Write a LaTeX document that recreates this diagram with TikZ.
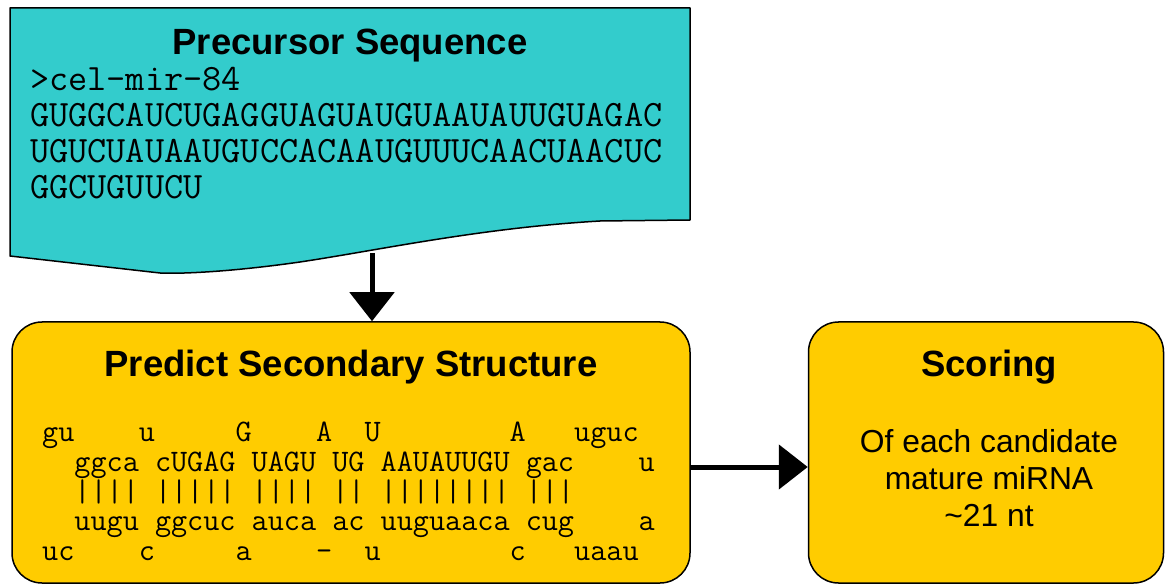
\documentclass[tikz,border=0pt]{standalone}
\usepackage{fontspec}
\setmainfont{Liberation Sans}
\newfontfamily\monofam{Latin Modern Mono}
\usetikzlibrary{arrows.meta}
\definecolor{cyanfill}{HTML}{33CCCC}
\definecolor{goldfill}{HTML}{FFCC00}
\newcommand\spc[1]{\hspace*{#1\fontcharwd\font`x}}
\tikzset{
  box/.style={draw=black, line width=1.5pt, fill=goldfill, rounded corners=30pt, inner sep=0pt},
  title/.style={inner sep=0pt, anchor=base, font=\bfseries\fontsize{36.5}{40}\selectfont},
  body/.style={inner sep=0pt, anchor=base, font=\fontsize{31.8}{36}\selectfont},
  seq/.style={inner sep=0pt, anchor=base west, font=\monofam\fontsize{37.2}{40}\selectfont},
  struct/.style={inner sep=0pt, anchor=base west, font=\monofam\fontsize{31.3}{34}\selectfont},
  flow/.style={line width=5pt, -{Triangle[length=29pt,width=44pt]}},
}
\begin{document}
\begin{tikzpicture}[x=1pt,y=-1pt]
\useasboundingbox (0,0) rectangle (1165,585);
% document shape
\fill[cyanfill] (10,8) -- (690,8) -- (690,220) -- (600,221)
  .. controls (480,228) and (380,250) .. (300,262)
  .. controls (230,272) and (180,274) .. (160,273) -- (10,256) -- cycle;
\draw[line width=1.5pt, line join=round] (10,8) -- (690,8) -- (690,220) -- (600,221)
  .. controls (480,228) and (380,250) .. (300,262)
  .. controls (230,272) and (180,274) .. (160,273) -- (10,256) -- cycle;
\coordinate (preb) at (372,253);
\node[title] (pretitle) at (350,55) {Precursor Sequence};
\node[seq] (s1) at (30,91) {>cel-mir-84};
\node[seq] (s2) at (30,127) {GUGGCAUCUGAGGUAGUAUGUAAUAUUGUAGAC};
\node[seq] (s3) at (30,163) {UGUCUAUAAUGUCCACAAUGUUUCAACUAACUC};
\node[seq] (s4) at (30,199) {GGCUGUUCU};
% boxes
\node[box, minimum width=678pt, minimum height=261pt] (pred) at (351,452.5) {};
\node[box, minimum width=355pt, minimum height=261pt] (score) at (986,452.5) {};
\node[title] (predtitle) at (351,377) {Predict Secondary Structure};
\node[struct] (l1) at (42,441) {gu\spc{4}u\spc{5}G\spc{4}A\spc{2}U\spc{8}A\spc{3}uguc};
\node[struct] (l2) at (42,471) {\spc{2}ggca\spc{1}cUGAG\spc{1}UAGU\spc{1}UG\spc{1}AAUAUUGU\spc{1}gac\spc{4}u};
\node[struct] (l3) at (42,501) {\spc{2}||||\spc{1}|||||\spc{1}||||\spc{1}||\spc{1}||||||||\spc{1}|||};
\node[struct] (l4) at (42,530) {\spc{2}uugu\spc{1}ggcuc\spc{1}auca\spc{1}ac\spc{1}uuguaaca\spc{1}cug\spc{4}a};
\node[struct] (l5) at (42,560) {uc\spc{4}c\spc{5}a\spc{4}-\spc{2}u\spc{8}c\spc{3}uaau};
\node[title] (scoretitle) at (989,377) {Scoring};
\node[body] (b1) at (989,452) {Of each candidate};
\node[body] (b2) at (989,489) {mature miRNA};
\node[body] (b3) at (989,526) {\char`\~21 nt};
% connectors
\draw[flow] (preb) -- (preb |- pred.north);
\draw[flow] ([yshift=-14.5pt]pred.east) -- ([yshift=-14.5pt]score.west);
\end{tikzpicture}
\end{document}
